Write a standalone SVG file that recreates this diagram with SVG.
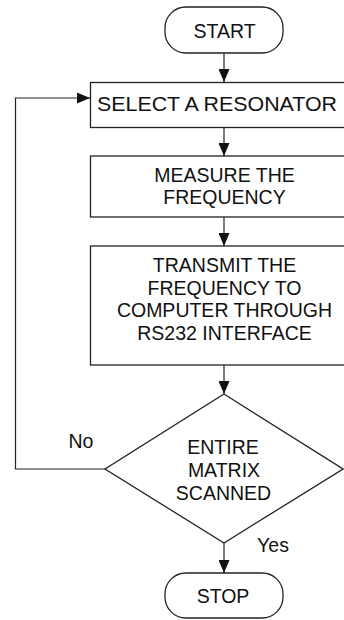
<svg xmlns="http://www.w3.org/2000/svg" width="344" height="620" viewBox="0 0 344 620">
<style>
.s{fill:#fff;stroke:#222;stroke-width:1.3}
.c{fill:none;stroke:#222;stroke-width:1.2}
text{font-family:"Liberation Sans",Arial,sans-serif;font-size:19.5px;fill:#111;text-anchor:middle}
</style>
<defs>
<marker id="ah" viewBox="0 0 13 11" refX="13" refY="5.5" markerUnits="userSpaceOnUse" markerWidth="13" markerHeight="11" orient="auto">
<path d="M0,0 L13,5.5 L0,11 z" fill="#111"/>
</marker>
</defs>
<rect width="344" height="620" fill="#fff"/>
<g id="connectors">
<line class="c" x1="224" y1="53" x2="224" y2="82" marker-end="url(#ah)"/>
<line class="c" x1="224" y1="127" x2="224" y2="156" marker-end="url(#ah)"/>
<line class="c" x1="224" y1="217" x2="224" y2="246" marker-end="url(#ah)"/>
<line class="c" x1="224" y1="365" x2="224" y2="394" marker-end="url(#ah)"/>
<line class="c" x1="224" y1="543" x2="224" y2="573" marker-end="url(#ah)"/>
<polyline class="c" points="105,469 15.5,469 15.5,98 90,98" marker-end="url(#ah)"/>
<text x="81" y="448">No</text>
<text x="273" y="552">Yes</text>
</g>
<g id="start">
<rect class="s" x="165" y="7" width="118" height="46" rx="21" ry="21"/>
<text x="224.5" y="37.5">START</text>
</g>
<g id="select">
<rect class="s" x="90.5" y="82.5" width="260" height="45"/>
<text x="217" y="111" textLength="240" lengthAdjust="spacingAndGlyphs">SELECT A RESONATOR</text>
</g>
<g id="measure">
<rect class="s" x="90.5" y="156" width="260" height="61"/>
<text x="224.5" y="182">MEASURE THE</text>
<text x="224.5" y="204">FREQUENCY</text>
</g>
<g id="transmit">
<rect class="s" x="90.5" y="246" width="260" height="119"/>
<text x="224.5" y="272">TRANSMIT THE</text>
<text x="224.5" y="295">FREQUENCY TO</text>
<text x="224.5" y="317">COMPUTER THROUGH</text>
<text x="224.5" y="340">RS232 INTERFACE</text>
</g>
<g id="decision">
<polygon class="s" points="224,394 343,469 224,543 105,469"/>
<text x="223" y="454">ENTIRE</text>
<text x="224" y="477">MATRIX</text>
<text x="223.5" y="500">SCANNED</text>
</g>
<g id="stop">
<rect class="s" x="165" y="573" width="118" height="45" rx="21" ry="21"/>
<text x="223" y="602.5">STOP</text>
</g>
</svg>
